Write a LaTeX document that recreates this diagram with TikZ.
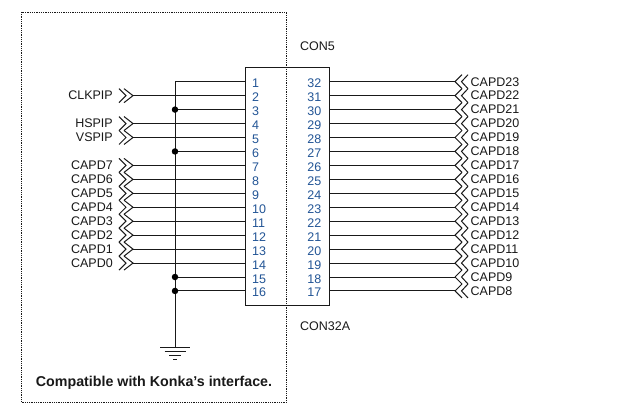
\documentclass[tikz,border=0pt]{standalone}
\usepackage{fontspec}
\setmainfont{Liberation Sans}
\definecolor{pinblue}{RGB}{35,85,150}
\definecolor{inkc}{RGB}{25,25,25}
\tikzset{
  wire/.style={draw=inkc,line width=1pt},
  frame/.style={draw=inkc,line width=0.9pt,dash pattern=on 0.9pt off 0.9pt},
  lab/.style={inner sep=0pt,font=\fontsize{12.5}{14}\selectfont,text=inkc},
  pin/.style={inner sep=0pt,font=\fontsize{12.5}{14}\selectfont,text=pinblue},
  jdot/.style={circle,fill=black,inner sep=0pt,minimum size=6.5pt},
}
\begin{document}
\begin{tikzpicture}[x=1pt,y=-1pt]
\useasboundingbox (0,0) rectangle (642,406);
\fill[white] (0,0) rectangle (642,406);
\draw[frame] (21.5,12) rectangle (286.5,402.5);
\coordinate (icNW) at (245,67.5);
\coordinate (icSE) at (329,305);
\draw[wire] (icNW) rectangle (icSE);
\node[lab,anchor=base west] (con5) at (300,51) {CON5};
\node[lab,anchor=base west] (con32) at (300,330) {CON32A};
\node[inner sep=0pt,font=\fontsize{14.25}{16}\selectfont\bfseries,text=inkc] (note) at (154,383) {Compatible with Konka's interface.};
\coordinate (bustop) at (175,81.7);
\coordinate (gnd) at (175,347);
\foreach \i [evaluate=\i as \y using {81.7+13.95*(\i-1)},evaluate=\i as \r using {int(33-\i)}] in {1,...,16}{
  \coordinate (L\i) at (245,\y);
  \coordinate (R\i) at (329,\y);
  \coordinate (RE\i) at (455,\y);
  \node[pin,anchor=base west] (pl\i) at (252,\y+6) {\i};
  \node[pin,anchor=base east] (pr\i) at (321.5,\y+6) {\r};
  \draw[wire] (R\i) -- (RE\i);
  \draw[wire] (RE\i) -- ++(7,-7) (RE\i) -- ++(7,7);
  \draw[wire] ([shift={(13,-7)}]RE\i) -- ([shift={(6.5,0)}]RE\i) -- ([shift={(13,7)}]RE\i);
}
\foreach \i/\t in {1/CAPD23,2/CAPD22,3/CAPD21,4/CAPD20,5/CAPD19,6/CAPD18,7/CAPD17,8/CAPD16,9/CAPD15,10/CAPD14,11/CAPD13,12/CAPD12,13/CAPD11,14/CAPD10,15/CAPD9,16/CAPD8}{
  \node[lab,anchor=west] (rl\i) at ([xshift=15.5pt]RE\i) {\t};
}
\foreach \i/\t in {2/CLKPIP,4/HSPIP,5/VSPIP,7/CAPD7,8/CAPD6,9/CAPD5,10/CAPD4,11/CAPD3,12/CAPD2,13/CAPD1,14/CAPD0}{
  \path (L\i) ++(-112,0) coordinate (LE\i);
  \draw[wire] (LE\i) -- (L\i);
  \draw[wire] ([shift={(-9,-7)}]LE\i) -- (LE\i) -- ([shift={(-9,7)}]LE\i);
  \draw[wire] ([shift={(-14,-7)}]LE\i) -- ([shift={(-7,0)}]LE\i) -- ([shift={(-14,7)}]LE\i);
  \node[lab,anchor=east] (ll\i) at ([xshift=-20pt]LE\i) {\t};
}
\draw[wire] (bustop) -- (gnd);
\foreach \i in {1,3,6,15,16}{
  \path (L\i) ++(-70,0) coordinate (B\i);
  \draw[wire] (B\i) -- (L\i);
}
\foreach \i in {3,6,15,16}{ \node[jdot] (d\i) at (B\i) {}; }
\draw[wire] ([xshift=-15pt]gnd) -- ([xshift=15pt]gnd);
\draw[wire] ([shift={(-10.5,4.2)}]gnd) -- ([shift={(10.5,4.2)}]gnd);
\draw[wire] ([shift={(-6,8.4)}]gnd) -- ([shift={(6,8.4)}]gnd);
\draw[wire] ([shift={(-2,12.5)}]gnd) -- ([shift={(2,12.5)}]gnd);
\end{tikzpicture}
\end{document}
